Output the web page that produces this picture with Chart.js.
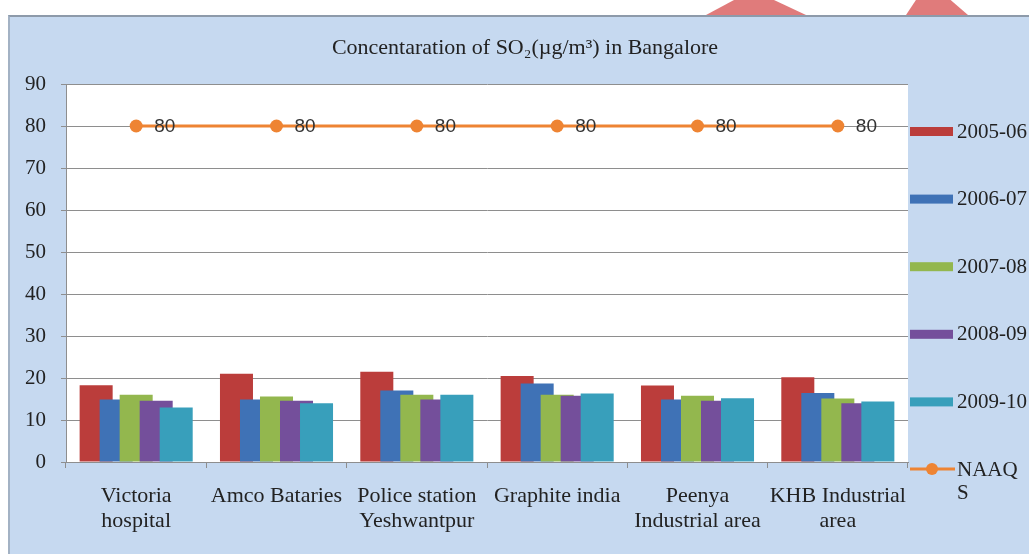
<!DOCTYPE html>
<html>
<head>
<meta charset="utf-8">
<script src="https://cdn.jsdelivr.net/npm/chart.js@4"></script>
<style>
  html, body { margin: 0; padding: 0; background: #ffffff; overflow: hidden; }
  #wrap { position: relative; width: 1029px; height: 554px; overflow: hidden; }
  #panel {
    position: absolute; left: 8px; top: 15px; width: 1100px; height: 600px;
    background: #c6d9f0; border-left: 2px solid #a3b2c4; border-top: 2px solid #8d9aaa;
    box-sizing: border-box;
  }
  .mark { position: absolute; top: 0; height: 15px; background: #e07b7b; }
  #m1 { left: 706px; width: 100px; clip-path: polygon(28% 0, 68% 0, 100% 100%, 0 100%); }
  #m2 { left: 906px; width: 62px; clip-path: polygon(16% 0, 72% 0, 100% 100%, 0 100%); }
  canvas { position: absolute; left: 0; top: 0; }
</style>
</head>
<body>
<div id="wrap">
  <div class="mark" id="m1"></div>
  <div class="mark" id="m2"></div>
  <div id="panel"></div>
  <canvas id="c" width="1029" height="554"></canvas>
</div>
<script>
// Monitoring stations (x axis)
const stations = [
  ['Victoria', 'hospital'],
  ['Amco Bataries'],
  ['Police station', 'Yeshwantpur'],
  ['Graphite india'],
  ['Peenya', 'Industrial area'],
  ['KHB Industrial', 'area']
];

// Annual average SO2, µg/m³
const y2005_06 = [18.3, 21.0, 21.5, 20.5, 18.2, 20.2];
const y2006_07 = [14.9, 14.9, 17.0, 18.7, 14.9, 16.4];
const y2007_08 = [16.0, 15.6, 16.0, 16.0, 15.8, 15.1];
const y2008_09 = [14.6, 14.6, 14.9, 15.8, 14.6, 14.0];
const y2009_10 = [13.0, 14.0, 16.0, 16.3, 15.2, 14.4];
const naaqs    = [80, 80, 80, 80, 80, 80];

const seriesNames = ['2005-06', '2006-07', '2007-08', '2008-09', '2009-10', 'NAAQS'];
const legendLines = [['2005-06'], ['2006-07'], ['2007-08'], ['2008-09'], ['2009-10'], ['NAAQ', 'S']];
const yTicks = [0, 10, 20, 30, 40, 50, 60, 70, 80, 90];
const chartTitle = 'Concentaration of SO₂(µg/m³) in Bangalore';

const colors = ['#bb3d3b', '#3f72b6', '#93b74e', '#744f9b', '#389fbb', '#ee8433'];
const SERIF = '"Liberation Serif", "Times New Roman", serif';

const bar = (i, data) => ({
  type: 'bar', label: seriesNames[i], data,
  backgroundColor: colors[i], borderWidth: 0,
  categoryPercentage: 0.713, barPercentage: 1.65
});

// Paint the white plot area behind everything
const plotBg = {
  id: 'plotBg',
  beforeDraw(chart) {
    const { ctx, chartArea: a } = chart;
    ctx.save();
    ctx.fillStyle = '#ffffff';
    ctx.fillRect(a.left, a.top, a.right - a.left, a.bottom - a.top);
    ctx.restore();
  }
};

// Draw datasets in index order so each later series sits over the previous one
const drawInOrder = {
  id: 'drawInOrder',
  beforeDatasetsDraw(chart) {
    chart.getSortedVisibleDatasetMetas().forEach(m => chart._drawDataset(m));
    return false;
  }
};

// Title over the whole panel, value labels beside the NAAQS markers, legend column
const extras = {
  id: 'extras',
  afterDraw(chart) {
    const { ctx } = chart;
    ctx.save();

    ctx.font = '22px ' + SERIF;
    ctx.fillStyle = '#222222';
    ctx.textAlign = 'center';
    ctx.textBaseline = 'middle';
    ctx.fillText(chartTitle, 525, 48);

    const lineIdx = chart.data.datasets.length - 1;
    const meta = chart.getDatasetMeta(lineIdx);
    ctx.font = '19px "Liberation Sans", Arial, sans-serif';
    ctx.fillStyle = '#333333';
    ctx.textAlign = 'left';
    meta.data.forEach((pt, j) => {
      ctx.fillText(String(chart.data.datasets[lineIdx].data[j]), pt.x + 18, pt.y + 1);
    });

    // legend
    const x0 = 910, top = 131, step = 67.6;
    ctx.font = '21px ' + SERIF;
    chart.data.datasets.forEach((ds, i) => {
      const y = top + i * step;
      if (ds.type === 'line') {
        ctx.strokeStyle = ds.borderColor;
        ctx.lineWidth = 3;
        ctx.beginPath(); ctx.moveTo(x0, y); ctx.lineTo(x0 + 45, y); ctx.stroke();
        ctx.fillStyle = ds.backgroundColor;
        ctx.beginPath(); ctx.arc(x0 + 22, y, 6, 0, Math.PI * 2); ctx.fill();
      } else {
        ctx.fillStyle = ds.backgroundColor;
        ctx.fillRect(x0, y - 4, 43, 9);
      }
      ctx.fillStyle = '#222222';
      legendLines[i].forEach((t, k) => ctx.fillText(t, x0 + 47, y + 1 + k * 23));
    });
    ctx.restore();
  }
};

new Chart(document.getElementById('c'), {
  data: {
    labels: stations,
    datasets: [
      bar(0, y2005_06), bar(1, y2006_07), bar(2, y2007_08), bar(3, y2008_09), bar(4, y2009_10),
      {
        type: 'line', label: seriesNames[5], data: naaqs,
        borderColor: colors[5], backgroundColor: colors[5], borderWidth: 3,
        pointRadius: 6.5, pointBorderWidth: 0, pointBackgroundColor: colors[5]
      }
    ]
  },
  options: {
    responsive: false,
    animation: false,
    layout: { padding: { left: 8, right: 121, top: 84, bottom: 0 } },
    plugins: {
      legend: { display: false },
      tooltip: { enabled: false },
      title: { display: false }
    },
    scales: {
      x: {
        offset: true,
        grid: { display: true, drawOnChartArea: false, offset: true, tickLength: 6, color: '#8e8e8e' },
        border: { display: true, color: '#8e8e8e' },
        ticks: {
          color: '#222222', font: { family: SERIF, size: 22, lineHeight: 1.14 },
          padding: 16, maxRotation: 0, autoSkip: false
        },
        afterFit(s) { s.height = 92; }
      },
      y: {
        min: 0, max: 90,
        afterBuildTicks(s) { s.ticks = yTicks.map(v => ({ value: v })); },
        grid: { color: '#8e8e8e', tickLength: 5 },
        border: { display: true, color: '#8e8e8e' },
        ticks: { color: '#222222', font: { family: SERIF, size: 21 }, padding: 15 },
        afterFit(s) { s.width = 58; }
      }
    }
  },
  plugins: [plotBg, drawInOrder, extras]
});
</script>
</body>
</html>
